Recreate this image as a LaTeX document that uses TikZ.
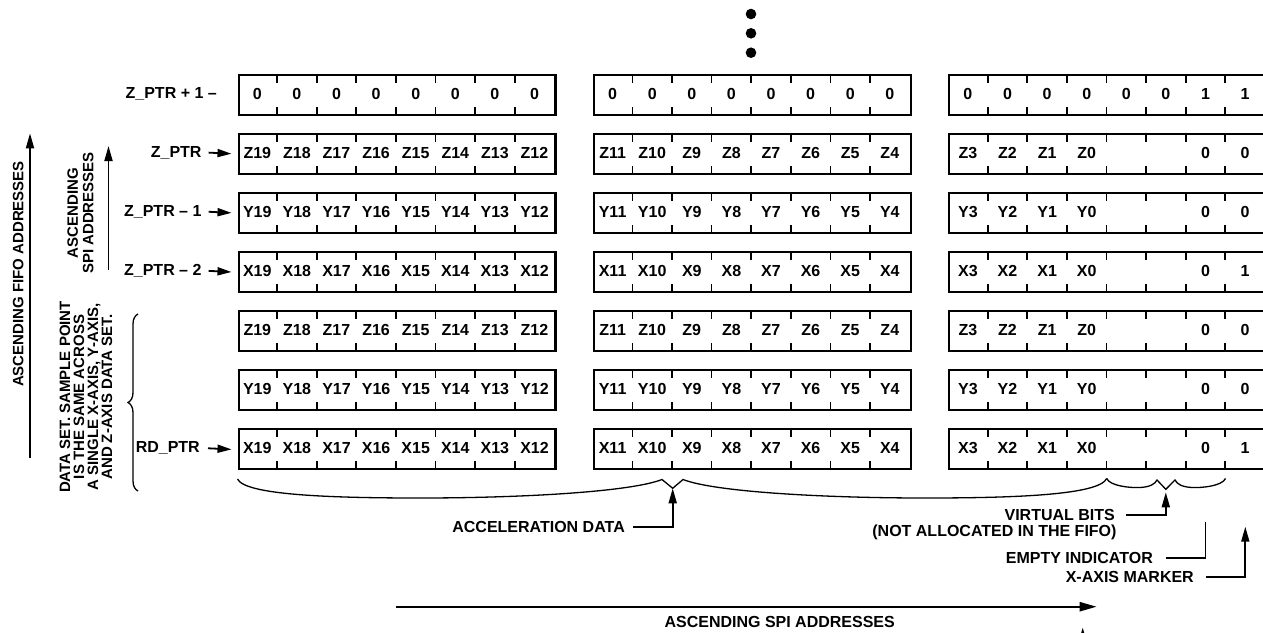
\documentclass[tikz,border=0pt]{standalone}
\usepackage{fontspec}
\setmainfont{Liberation Sans}
\usetikzlibrary{arrows.meta,positioning,calc,decorations.pathreplacing}

\newcommand{\cellx}[2]{237.5+#1*355.3+(#2+0.5)*39.6}
\newcommand{\rowy}[1]{93.5+#1*59.13}

\tikzset{
  regbox/.style={draw, line width=2.2pt, minimum width=316.8pt, minimum height=40pt,
    inner sep=0pt, anchor=north west},
  bittick/.style={line width=1.7pt},
  bitlbl/.style={font=\bfseries\fontsize{16}{18}\selectfont, inner sep=0pt},
  lbl/.style={font=\bfseries\fontsize{16}{18}\selectfont, inner sep=0pt},
  sidelbl/.style={font=\bfseries\fontsize{15}{14}\selectfont, align=center, rotate=90, inner sep=0pt},
  ptr/.style={-{Triangle[length=14pt,width=8pt]}, line width=1.8pt},
  note/.style={-{Triangle[length=15pt,width=8pt]}, line width=1.8pt},
  bracel/.style={line width=1.3pt},
}

\begin{document}
\begin{tikzpicture}[x=1pt, y=-1pt]
  \useasboundingbox (0,0) rectangle (1263,632);

  % more rows above
  \foreach \d/\y in {1/14,2/33.3,3/52.7}
    \fill (751,\y) coordinate (dot\d) circle (5.3pt);

  % register boxes with ticks
  \foreach \r in {0,...,6}
    \foreach \b in {0,1,2} {
      \node[regbox] (reg\r-\b) at ({237.5+\b*355.3},{73.5+\r*59.13}) {};
      \foreach \c in {1,...,7}
        \draw[bittick] ($(reg\r-\b.north west)+(\c*39.6,0)$) -- ++(0,9)
          ($(reg\r-\b.south west)+(\c*39.6,0)$) -- ++(0,-9);
    }

  % top row: zeros
  \foreach \b in {0,1}
    \foreach \c in {0,...,7}
      \node[bitlbl] (c0-\b-\c) at ({\cellx{\b}{\c}},{\rowy{0}}) {0};
  \foreach \c/\t in {0/0,1/0,2/0,3/0,4/0,5/0,6/1,7/1}
    \node[bitlbl] (c0-2-\c) at ({\cellx{2}{\c}},{\rowy{0}}) {\t};

  % data rows
  \foreach \r/\ax/\bh/\bl in {1/Z/0/0,2/Y/0/0,3/X/0/1,4/Z/0/0,5/Y/0/0,6/X/0/1} {
    \foreach \c in {0,...,7} {
      \pgfmathtruncatemacro\nhi{19-\c}
      \pgfmathtruncatemacro\nlo{11-\c}
      \node[bitlbl] (c\r-0-\c) at ({\cellx{0}{\c}},{\rowy{\r}}) {\ax\nhi};
      \node[bitlbl] (c\r-1-\c) at ({\cellx{1}{\c}},{\rowy{\r}}) {\ax\nlo};
    }
    \foreach \c/\t in {0/3,1/2,2/1,3/0}
      \node[bitlbl] (c\r-2-\c) at ({\cellx{2}{\c}},{\rowy{\r}}) {\ax\t};
    \node[bitlbl] (c\r-2-6) at ({\cellx{2}{6}},{\rowy{\r}}) {\bh};
    \node[bitlbl] (c\r-2-7) at ({\cellx{2}{7}},{\rowy{\r}}) {\bl};
  }

  % pointers
  \node[lbl, anchor=east] (zp1) at (217,{\rowy{0}}) {Z\_PTR + 1 –};
  \node[lbl, anchor=east] (zp) at (201.7,{\rowy{1}}) {Z\_PTR};
  \node[lbl, anchor=east] (zm1) at (201.7,{\rowy{2}}) {Z\_PTR – 1};
  \node[lbl, anchor=east] (zm2) at (201.7,{\rowy{3}}) {Z\_PTR – 2};
  \node[lbl, anchor=east] (rdp) at (200,{\rowy{6}}) {RD\_PTR};
  \draw[ptr] ([xshift=7pt]zp.east) -- ([xshift=-6pt]reg1-0.west);
  \draw[ptr] ([xshift=7pt]zm1.east) -- ([xshift=-6pt]reg2-0.west);
  \draw[ptr] ([xshift=7pt]zm2.east) -- ([xshift=-6pt]reg3-0.west);
  \draw[ptr] ([xshift=8pt]rdp.east) -- ([xshift=-6pt]reg6-0.west);

  % side labels
  \node[sidelbl] (fifo) at (18.3,274) {ASCENDING FIFO ADDRESSES};
  \coordinate (fifo bot) at (30,458);
  \coordinate (fifo top) at (30,133.3);
  \draw[note] (fifo bot) -- (fifo top);
  \node[sidelbl, font=\bfseries\fontsize{15}{15.5}\selectfont] (spiv) at (80.5,213) {ASCENDING\\SPI ADDRESSES};
  \coordinate (spiv bot) at (108.5,270);
  \coordinate (spiv top) at (108.5,146);
  \draw[note] (spiv bot) -- (spiv top);
  \node[sidelbl] (dset) at (86,397)
    {DATA SET. SAMPLE POINT\\IS THE SAME ACROSS\\A SINGLE X-AXIS, Y-AXIS,\\AND Z-AXIS DATA SET.};
  \draw[bracel, decorate, decoration={brace, amplitude=10pt}] (138,491) -- (138,314);

  % bottom braces
  \coordinate (acc tip) at (672.7,488.3);
  \coordinate (vb tip) at (1165.8,489.3);
  \draw[bracel] (237.5,479) .. controls (245,495) and (330,498) .. (420,498)
    .. controls (520,498) and (630,492) .. (662,479.5) -- (acc tip) -- (683,479.5)
    .. controls (715,492) and (825,498) .. (925,498)
    .. controls (1015,498) and (1099,495) .. (1106.7,478.5);
  \draw[bracel] (1106.7,478.5) .. controls (1110,486) and (1130,488) .. (1140,487.5)
    .. controls (1150,487) and (1155,484) .. (1157,480) -- (vb tip) -- (1175,480)
    .. controls (1177,484) and (1182,487) .. (1192,487.5)
    .. controls (1202,488) and (1222,486) .. (1225.5,478.5);

  % field notes
  \node[lbl, anchor=east] (accdata) at (625,527.3) {ACCELERATION DATA};
  \draw[note] ([xshift=8pt]accdata.east) -| (acc tip);
  \node[lbl, anchor=east] (vbits) at (1115,515) {VIRTUAL BITS};
  \node[lbl, anchor=east] (vbnote) at (1116.7,532.7) {(NOT ALLOCATED IN THE FIFO)};
  \draw[note, shorten >=3pt] ([xshift=11pt]vbits.east) -| (vb tip);
  \node[lbl, anchor=east] (empty) at (1153,557.7) {EMPTY INDICATOR};
  \coordinate (empty top) at (1205.5,521.7);
  \draw[line width=1.8pt] ([xshift=13pt]empty.east) -| (empty top);
  \node[lbl, anchor=east] (xmark) at (1194,576.7) {X-AXIS MARKER};
  \coordinate (xmark tip) at (1245.3,526.7);
  \draw[note] ([xshift=12pt]xmark.east) -| (xmark tip);

  % ascending spi addresses
  \coordinate (spih start) at (396,606.7);
  \coordinate (spih end) at (1096.7,606.7);
  \draw[-{Triangle[length=17pt,width=9pt]}, line width=2.3pt] (spih start) -- (spih end);
  \node[lbl] (spih) at (779.7,621.7) {ASCENDING SPI ADDRESSES};
  \coordinate (cut bot) at (1082.7,660);
  \coordinate (cut tip) at (1082.7,627.5);
  \draw[note] (cut bot) -- (cut tip);
\end{tikzpicture}
\end{document}
